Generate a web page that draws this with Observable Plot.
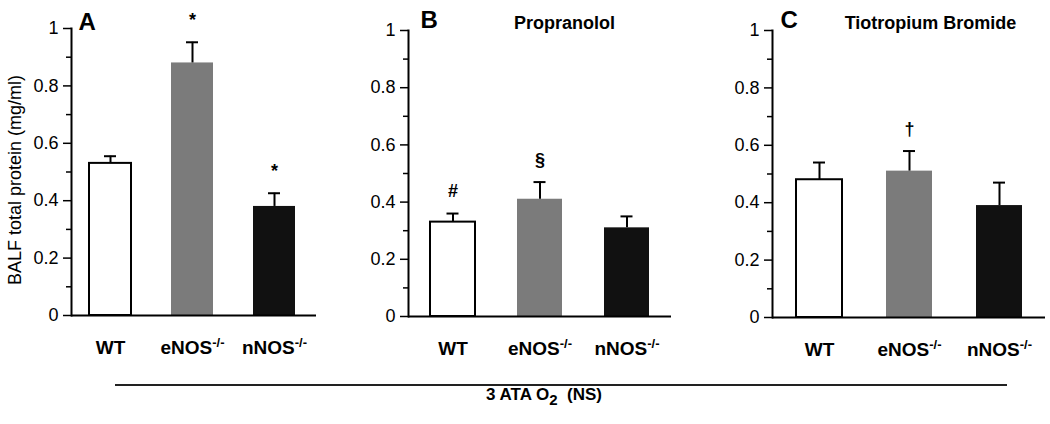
<!DOCTYPE html>
<html>
<head>
<meta charset="utf-8">
<script src="https://cdn.jsdelivr.net/npm/d3@7"></script>
<script src="https://cdn.jsdelivr.net/npm/@observablehq/plot@0.6"></script>
<style>
  html, body { margin: 0; padding: 0; background: white; }
  #wrap { position: relative; width: 1050px; height: 424px; background: white; overflow: hidden;
          font-family: "Liberation Sans", Arial, Helvetica, sans-serif; color: black; }
  #wrap > svg { position: absolute; top: 0; }
  #footline { position: absolute; left: 115px; top: 384px; width: 892px; height: 0; border-top: 2px solid #222; }
  #foottext { position: absolute; left: 0; width: 1088px; top: 385px; text-align: center;
              font-weight: bold; font-size: 17px; word-spacing: 0px; letter-spacing: 0px; }
  #foottext sub { font-size: 15px; vertical-align: -5px; }
</style>
</head>
<body>
<div id="wrap"></div>
<script>
// ---------- data ----------
const groups = ["WT", "eNOS", "nNOS"];
const groupSup = ["", "-/-", "-/-"];

const meanA = [0.53, 0.88, 0.38];
const semA  = [0.025, 0.072, 0.046];
const markA = ["", "*", "*"];

const meanB = [0.33, 0.41, 0.31];
const semB  = [0.03, 0.06, 0.04];
const markB = ["#", "§", ""];

const meanC = [0.48, 0.51, 0.39];
const semC  = [0.06, 0.07, 0.08];
const markC = ["", "†", ""];

const panelLetters = ["A", "B", "C"];
const panelTitles = ["", "Propranolol", "Tiotropium Bromide"];
const yMajorTicks = [0, 0.2, 0.4, 0.6, 0.8, 1];
const yMinorTicks = [0.1, 0.3, 0.5, 0.7, 0.9];
const yTitle = "BALF total protein (mg/ml)";
const footerMain = "3 ATA O";
const footerSub = "2";
const footerTail = "(NS)";

// ---------- styles / layout ----------
const barColors = ["white", "#7b7b7b", "#111111"];
const FONT = "'Liberation Sans', Arial, Helvetica, sans-serif";
const layouts = [
  {left: 0,   width: 330, marginLeft: 71, marginRight: 14, marginTop: 28, marginBottom: 55, range: [71, 313.5], pOuter: 0.22,  capInset: 15,  letterDx: 7,  letterDy: 1,  titleDx: 0},
  {left: 340, width: 345, marginLeft: 68, marginRight: 14, marginTop: 30, marginBottom: 54, range: [68, 331],   pOuter: 0.246, capInset: 16.5, letterDx: 12, letterDy: -3, titleDx: 24.5},
  {left: 700, width: 350, marginLeft: 72, marginRight: 5,  marginTop: 30, marginBottom: 53, range: [72, 345.5], pOuter: 0.258, capInset: 17,  letterDx: 8,  letterDy: -3, titleDx: 21.5}
];

function buildRows(means, sems, marks) {
  return groups.map((g, i) => ({group: g, sup: groupSup[i], mean: means[i], sem: sems[i], top: means[i] + sems[i], mark: marks[i]}));
}

function panel(idx, rows) {
  const L = layouts[idx];
  const marks = [
    Plot.barY(rows, {x: "group", y: "mean", fill: "group",
      stroke: d => d.group === "WT" ? "black" : "none", strokeWidth: 2}),
    Plot.ruleX(rows, {x: "group", y1: "mean", y2: "top", stroke: "black", strokeWidth: 2}),
    Plot.tickY(rows, {x: "group", y: "top", stroke: "black", strokeWidth: 2, insetLeft: L.capInset, insetRight: L.capInset}),
    Plot.text(rows.filter(d => d.mark), {x: "group", y: "top", text: "mark", dy: -22, fontSize: 18, fontWeight: "bold"}),
    Plot.ruleY([0], {stroke: "black", strokeWidth: 2}),
    Plot.frame({anchor: "left", stroke: "black", strokeWidth: 2}),
    Plot.axisY({ticks: yMajorTicks, tickSize: 8, tickPadding: 5, strokeWidth: 1.5, fontSize: 18,
      tickFormat: d => d === 0 || d === 1 ? String(d) : d.toFixed(1), label: null}),
    Plot.axisY({ticks: yMinorTicks, tickSize: 5, strokeWidth: 1.5, tickFormat: () => "", label: null}),
    Plot.axisX({tickSize: 0, tickPadding: 25, fontSize: 19, fontWeight: "bold", label: null}),
    Plot.text([panelLetters[idx]], {frameAnchor: "top-left", textAnchor: "start", lineAnchor: "bottom",
      dx: L.letterDx, dy: L.letterDy, fontSize: 24, fontWeight: "bold"})
  ];
  if (panelTitles[idx]) {
    marks.push(Plot.text([panelTitles[idx]], {frameAnchor: "top", textAnchor: "middle", lineAnchor: "bottom", dx: L.titleDx, dy: -2,
      fontSize: 18, fontWeight: "bold"}));
  }
  if (idx === 0) {
    marks.push(Plot.text([yTitle], {frameAnchor: "left", textAnchor: "middle", lineAnchor: "middle",
      rotate: -90, dx: -56, dy: 8, fontSize: 18}));
  }
  const svg = Plot.plot({
    width: L.width, height: 370,
    marginLeft: L.marginLeft, marginRight: L.marginRight, marginTop: L.marginTop, marginBottom: L.marginBottom,
    style: {fontFamily: FONT, fontSize: "18px", color: "black", background: "transparent", overflow: "visible"},
    x: {type: "band", domain: groups, range: L.range, paddingInner: 0.485, paddingOuter: L.pOuter, axis: null},
    y: {domain: [0, 1], axis: null},
    color: {domain: groups, range: barColors},
    marks
  });
  svg.style.left = L.left + "px";
  // superscripts on x tick labels
  svg.querySelectorAll('g[aria-label="x-axis tick label"] text').forEach(t => {
    const base = t.textContent;
    const i = groups.indexOf(base);
    t.setAttribute("font-weight", "bold");
    if (i >= 0 && groupSup[i]) {
      const ts = document.createElementNS("http://www.w3.org/2000/svg", "tspan");
      ts.setAttribute("font-size", "13");
      ts.setAttribute("dy", "-7");
      ts.textContent = groupSup[i];
      t.appendChild(ts);
    }
  });
  return svg;
}

const wrap = document.getElementById("wrap");
wrap.appendChild(panel(0, buildRows(meanA, semA, markA)));
wrap.appendChild(panel(1, buildRows(meanB, semB, markB)));
wrap.appendChild(panel(2, buildRows(meanC, semC, markC)));

const line = document.createElement("div");
line.id = "footline";
wrap.appendChild(line);
const ft = document.createElement("div");
ft.id = "foottext";
ft.innerHTML = footerMain + "<sub>" + footerSub + "</sub>&nbsp;&nbsp;" + footerTail;
wrap.appendChild(ft);
</script>
</body>
</html>
